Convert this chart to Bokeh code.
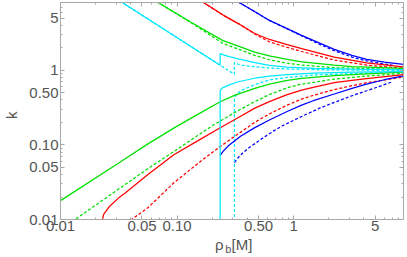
import math
from bokeh.plotting import figure
from bokeh.models import FixedTicker, LogAxis
from bokeh.embed import file_html
from bokeh.resources import INLINE

# ---------------- data ----------------
# cyan (solid / dashed), upper and lower branches
rho_cyan_solid_up = [0.0300, 0.0464, 0.234, 0.234, 0.25, 0.28, 0.335, 0.464, 0.619, 0.879, 1.5, 3.16, 8.74]
k_cyan_solid_up   = [9.10, 5.88, 1.166, 1.67, 1.60, 1.52, 1.42, 1.26, 1.16, 1.10, 1.06, 1.03, 1.02]
rho_cyan_solid_lo = [0.234, 0.234, 0.2365, 0.245, 0.2765, 0.335, 0.464, 0.619, 0.879, 1.5, 3.16, 8.74]
k_cyan_solid_lo   = [0.005, 0.514, 0.545, 0.58, 0.63, 0.70, 0.78, 0.83, 0.87, 0.91, 0.94, 0.96]
rho_cyan_dash_up  = [0.0300, 0.0464, 0.3104, 0.3104, 0.33, 0.37, 0.464, 0.619, 0.879, 2.0, 8.74]
k_cyan_dash_up    = [9.10, 5.88, 0.88, 1.267, 1.21, 1.16, 1.11, 1.07, 1.04, 1.01, 0.99]
rho_cyan_dash_lo  = [0.3104, 0.3104, 0.315, 0.33, 0.36, 0.464, 0.619, 0.879, 1.5, 3.16, 8.74]
k_cyan_dash_lo    = [0.005, 0.407, 0.45, 0.49, 0.54, 0.64, 0.74, 0.80, 0.86, 0.90, 0.95]

# green
rho_green_solid_up = [0.062, 0.068, 0.1283, 0.245, 0.464, 0.619, 0.879, 1.17, 2.23, 3.16, 8.74]
k_green_solid_up   = [9.0, 8.14, 4.5, 2.51, 1.75, 1.55, 1.40, 1.29, 1.166, 1.12, 1.054]
rho_green_solid_lo = [0.0095, 0.01, 0.0316, 0.0562, 0.1, 0.16, 0.234, 0.3104, 0.464, 0.619, 0.879, 1.17, 2.23, 4.22, 8.74]
k_green_solid_lo   = [0.017, 0.0179, 0.057, 0.103, 0.178, 0.27, 0.378, 0.46, 0.57, 0.65, 0.73, 0.775, 0.845, 0.895, 0.94]
rho_green_dash_up  = [0.062, 0.068, 0.1283, 0.245, 0.464, 0.619, 0.879, 1.17, 2.23, 8.74]
k_green_dash_up    = [9.0, 8.14, 4.45, 2.3, 1.58, 1.38, 1.24, 1.17, 1.08, 1.02]
rho_green_dash_lo  = [0.0125, 0.01334, 0.0562, 0.1, 0.2, 0.3104, 0.464, 0.619, 0.879, 1.17, 2.23, 4.22, 8.74]
k_green_dash_lo    = [0.0093, 0.01, 0.048, 0.087, 0.18, 0.27, 0.38, 0.47, 0.58, 0.65, 0.76, 0.835, 0.91]

# red
rho_red_solid_up = [0.155, 0.1669, 0.25, 0.335, 0.464, 0.619, 0.879, 1.17, 2.23, 4.22, 8.74]
k_red_solid_up   = [9.0, 8.14, 5.43, 4.21, 3.1, 2.58, 2.2, 1.95, 1.50, 1.25, 1.107]
rho_red_solid_lo = [0.0229, 0.02296, 0.0234, 0.0261, 0.0316, 0.0359, 0.0562, 0.0938, 0.15, 0.23, 0.327, 0.464, 0.619, 0.879, 1.17, 1.47, 2.23, 3.16, 4.22, 8.74]
k_red_solid_lo   = [0.008, 0.0100, 0.0116, 0.0148, 0.0195, 0.0227, 0.040, 0.0736, 0.113, 0.167, 0.227, 0.31, 0.38, 0.47, 0.54, 0.59, 0.68, 0.73, 0.77, 0.87]
rho_red_dash_up  = [0.155, 0.1669, 0.25, 0.335, 0.464, 0.619, 0.879, 1.17, 2.23, 4.22, 8.74]
k_red_dash_up    = [9.0, 8.14, 5.43, 4.21, 3.05, 2.40, 2.02, 1.78, 1.37, 1.17, 1.06]
rho_red_dash_lo  = [0.0380, 0.0408, 0.0562, 0.0938, 0.15, 0.23, 0.316, 0.464, 0.619, 0.879, 1.17, 1.47, 2.23, 3.16, 4.22, 8.74]
k_red_dash_lo    = [0.0085, 0.0100, 0.0144, 0.031, 0.056, 0.093, 0.132, 0.20, 0.26, 0.34, 0.41, 0.46, 0.55, 0.62, 0.68, 0.81]

# blue
rho_blue_solid_up = [0.31, 0.337, 0.45, 0.619, 0.879, 1.17, 1.67, 2.23, 3.16, 4.22, 6.0, 8.74]
k_blue_solid_up   = [8.8, 8.14, 6.25, 4.64, 3.6, 2.93, 2.3, 1.90, 1.58, 1.40, 1.28, 1.20]
rho_blue_solid_lo = [0.234, 0.25, 0.277, 0.35, 0.464, 0.619, 0.879, 1.17, 1.47, 2.23, 3.16, 4.22, 6.0, 8.74]
k_blue_solid_lo   = [0.0722, 0.083, 0.098, 0.13, 0.17, 0.215, 0.28, 0.34, 0.39, 0.48, 0.57, 0.65, 0.745, 0.84]
rho_blue_dash_up  = [0.31, 0.337, 0.45, 0.619, 0.879, 1.17, 1.67, 2.23, 3.16, 4.22, 6.0, 7.04]
k_blue_dash_up    = [8.8, 8.14, 6.25, 4.64, 3.58, 2.88, 2.22, 1.82, 1.50, 1.33, 1.21, 1.17]
rho_blue_dash_lo  = [0.3104, 0.33, 0.36, 0.40, 0.55, 0.68, 0.80, 1.17, 1.67, 2.23, 3.16, 4.22, 5.5, 7.04]
k_blue_dash_lo    = [0.058, 0.066, 0.076, 0.088, 0.125, 0.155, 0.18, 0.24, 0.31, 0.37, 0.455, 0.53, 0.61, 0.70]

x_ticks = [0.01, 0.05, 0.1, 0.5, 1, 5]
x_tick_labels = ["0.01", "0.05", "0.10", "0.50", "1", "5"]
y_ticks = [0.01, 0.05, 0.1, 0.5, 1, 5]
y_tick_labels = ["0.01", "0.05", "0.10", "0.50", "1", "5"]
minor_ticks = [0.02, 0.03, 0.04, 0.06, 0.07, 0.08, 0.09,
               0.2, 0.3, 0.4, 0.6, 0.7, 0.8, 0.9,
               2, 3, 4, 6, 7, 8]

x_title_main = ["ρ", "[M]"]
x_title_sub = "b"
y_title = "k"

# ---------------- styling ----------------
X0, X1 = 0.01, 8.745
Y0, Y1 = 0.01, 8.066
W, H = 407, 257
FL, FR, FT, FB = 50, 4, 2, 37
FW = W - FL - FR

FRAME = "#a8a8a8"
TXT = "#555555"
FONT = "Liberation Sans"
BLUE, RED, GREEN, CYAN = "#0000ff", "#ff0000", "#00e000", "#00e8ff"
LW = 1.25
DASH = "3 2"

p = figure(width=W, height=H, x_axis_type="log", y_axis_type="log",
           x_range=(X0, X1), y_range=(Y0, Y1),
           output_backend="svg", toolbar_location=None,
           min_border_left=FL, min_border_right=FR,
           min_border_top=FT, min_border_bottom=FB)
p.xgrid.visible = False
p.ygrid.visible = False
p.outline_line_color = FRAME
p.outline_line_width = 1
p.background_fill_color = "white"
p.border_fill_color = "white"


def style_axis(ax, ticks, labels, show_labels, standoff):
    ax.ticker = FixedTicker(ticks=ticks, minor_ticks=minor_ticks)
    ax.axis_line_color = FRAME
    ax.major_tick_line_color = FRAME
    ax.minor_tick_line_color = FRAME
    ax.major_tick_in = 4
    ax.major_tick_out = 0
    ax.minor_tick_in = 2
    ax.minor_tick_out = 0
    ax.major_label_standoff = standoff
    if show_labels:
        ax.major_label_overrides = {t: l for t, l in zip(ticks, labels)}
        ax.major_label_text_font = FONT
        ax.major_label_text_font_size = "15px"
        ax.major_label_text_color = TXT
    else:
        ax.major_label_text_font_size = "0px"
        ax.major_label_overrides = {t: "" for t in ticks}


style_axis(p.xaxis[0], x_ticks, x_tick_labels, True, 1)
style_axis(p.yaxis[0], y_ticks, y_tick_labels, True, 2)
# trailing no-break spaces move the glyph down along the rotated label
p.yaxis[0].axis_label = y_title + "\u00a0" * 2
p.yaxis[0].axis_label_text_font = FONT
p.yaxis[0].axis_label_text_font_size = "15px"
p.yaxis[0].axis_label_text_font_style = "normal"
p.yaxis[0].axis_label_text_color = TXT
p.yaxis[0].axis_label_standoff = 6

top = LogAxis()
right = LogAxis()
style_axis(top, x_ticks, x_tick_labels, False, 0)
style_axis(right, y_ticks, y_tick_labels, False, 0)
p.add_layout(top, "above")
p.add_layout(right, "right")


# x-axis title "ρ_b[M]" built from text-only axes stacked below
def rho_at(px):
    return X0 * (X1 / X0) ** ((px - FL) / FW)


def text_axis(pos_px, texts, size, standoff):
    ticks = [rho_at(v) for v in pos_px]
    ax = LogAxis(ticker=FixedTicker(ticks=ticks, minor_ticks=[]))
    ax.axis_line_color = None
    ax.major_tick_line_color = None
    ax.minor_tick_line_color = None
    ax.major_tick_in = 0
    ax.major_tick_out = 0
    ax.minor_tick_in = 0
    ax.minor_tick_out = 0
    ax.major_label_standoff = standoff
    ax.major_label_overrides = {t: s for t, s in zip(ticks, texts)}
    ax.major_label_text_font = FONT
    ax.major_label_text_font_size = size
    ax.major_label_text_color = TXT
    p.add_layout(ax, "below")
    return ax


text_axis([213.5, 236.7], x_title_main, "15px", 2)
text_axis([222.6], [x_title_sub], "11px", -13)

series = [
    (rho_blue_dash_up, k_blue_dash_up, BLUE, DASH),
    (rho_blue_dash_lo, k_blue_dash_lo, BLUE, DASH),
    (rho_red_dash_up, k_red_dash_up, RED, DASH),
    (rho_red_dash_lo, k_red_dash_lo, RED, DASH),
    (rho_green_dash_up, k_green_dash_up, GREEN, DASH),
    (rho_green_dash_lo, k_green_dash_lo, GREEN, DASH),
    (rho_cyan_dash_up, k_cyan_dash_up, CYAN, DASH),
    (rho_cyan_dash_lo, k_cyan_dash_lo, CYAN, DASH),
    (rho_blue_solid_up, k_blue_solid_up, BLUE, "solid"),
    (rho_blue_solid_lo, k_blue_solid_lo, BLUE, "solid"),
    (rho_red_solid_up, k_red_solid_up, RED, "solid"),
    (rho_red_solid_lo, k_red_solid_lo, RED, "solid"),
    (rho_green_solid_up, k_green_solid_up, GREEN, "solid"),
    (rho_green_solid_lo, k_green_solid_lo, GREEN, "solid"),
    (rho_cyan_solid_up, k_cyan_solid_up, CYAN, "solid"),
    (rho_cyan_solid_lo, k_cyan_solid_lo, CYAN, "solid"),
]
for xs, ys, c, d in series:
    p.line(xs, ys, line_color=c, line_width=LW, line_dash=d)

open("out.html", "w").write(file_html(p, INLINE))
